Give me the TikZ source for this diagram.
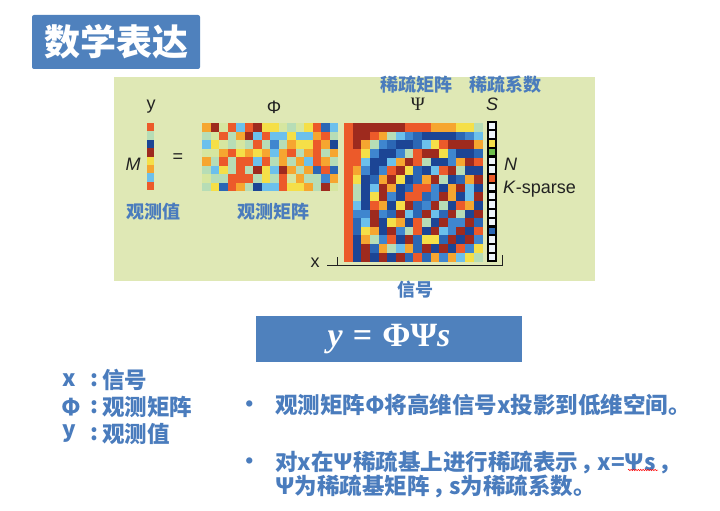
\documentclass[tikz,border=0pt]{standalone}
\usepackage{fontspec}
\setmainfont{Liberation Sans}
\newfontfamily\cjk{Noto Sans CJK SC}
\newfontfamily\serif{Liberation Serif}
\usetikzlibrary{decorations.pathmorphing}
\definecolor{pptblue}{HTML}{4F81BD}
\definecolor{txtblue}{HTML}{4A7CBD}
\definecolor{panel}{HTML}{DFE8B5}
\definecolor{p0}{HTML}{1C4595}
\definecolor{p1}{HTML}{2B67B5}
\definecolor{p2}{HTML}{3F86CF}
\definecolor{p3}{HTML}{6CC0EC}
\definecolor{p4}{HTML}{B7DDB6}
\definecolor{p5}{HTML}{F5DF48}
\definecolor{p6}{HTML}{F6A630}
\definecolor{p7}{HTML}{EC5A2A}
\definecolor{p8}{HTML}{9E2A1E}
\definecolor{p9}{HTML}{D6E6A0}
\definecolor{sw}{HTML}{EEF4FA}
\definecolor{sg}{HTML}{6DBE4B}
\definecolor{ink}{HTML}{222222}
\tikzset{
  cjklabel/.style={font=\cjk\bfseries\fontsize{18}{20}\selectfont, text=txtblue, inner sep=0},
  figlabel/.style={font=\fontsize{18}{20}\selectfont, text=ink, inner sep=0},
  bodytext/.style={font=\cjk\bfseries\fontsize{22.5}{26}\selectfont, text=txtblue, inner sep=0, anchor=west},
}
\begin{document}
\begin{tikzpicture}[x=1pt,y=-1pt]
\useasboundingbox (0,0) rectangle (720,511);
\fill[white] (0,0) rectangle (720,511);

% title
\node[fill=pptblue, rounded corners=2pt, minimum width=168, minimum height=54, inner sep=0,
      text=white, font=\cjk\bfseries\fontsize{36}{40}\selectfont] (title) at (116,42) {数学表达};

% panel
\node[fill=panel, minimum width=481, minimum height=204, inner sep=0] (panel) at (354.5,179) {};

% y vector
\foreach \v [count=\i from 0] in {7,4,0,8,5,6,3,7}
  \fill[p\v] (147,{123+\i*8.4}) rectangle ++(7,8.5);

% Phi matrix
\foreach \rowv [count=\r from 0] in {
 {6,8,9,7,3,7,8,5,5,9,4,9,5,7,1,3},
 {4,9,7,4,6,8,3,7,3,3,5,3,3,6,7,4},
 {3,5,9,4,9,4,7,4,2,4,6,5,5,7,6,0},
 {9,9,6,7,5,6,5,6,3,6,7,4,6,7,4,6},
 {6,4,7,4,7,7,3,7,4,6,4,6,3,7,6,4},
 {4,3,5,4,7,4,8,5,3,8,6,4,6,1,7,1},
 {9,4,4,7,7,7,4,5,4,7,9,6,4,4,2,6},
 {4,5,1,7,6,4,0,3,3,7,5,5,6,4,8,9}}{
  \foreach \v [count=\c from 0] in \rowv {
    \fill[p\v] ({202+\c*8.5},{123+\r*8.5}) rectangle ++(8.6,8.6);
  }
}

% Psi matrix (DCT basis)
\foreach \r in {0,...,15}{
  \foreach \c in {0,...,15}{
    \pgfmathsetmacro\tv{\c==0 ? 0.854 : (cos(5.625*(2*\r+1)*\c)+1)/2}
    \pgfmathtruncatemacro\k{min(8,floor(\tv*9))}
    \fill[p\k] ({344+\c*8.65},{123+\r*8.65}) rectangle ++(8.75,8.75);
  }
}

% s vector
\fill[black] (487,121) rectangle (497,262);
\foreach \cc [count=\i from 0] in {sw,sw,p5,sg,sw,sw,p7,sw,sw,sw,sw,sw,p1,sw,sw,sw}
  \fill[\cc] (489,{122.6+\i*8.75}) rectangle ++(6,6.6);

% bracket
\coordinate (bx0) at (327,265);
\coordinate (bx1) at (502,265);
\coordinate (bt0) at (337,257);
\coordinate (bt1) at (502,255);
\draw[ink, line width=1] (bx0) -- (bx1) -- (bt1);
\draw[ink, line width=1] (bt0) -- (bt0 |- bx0);

% figure labels
\node[figlabel] (ly) at (151,107) {y};
\node[figlabel] (lphi) at (274,107) {Φ};
\node[figlabel, font=\itshape\fontsize{18}{20}\selectfont] (lM) at (133,164) {M};
\node[figlabel] (leq) at (178,158) {=};
\node[figlabel, font=\serif\fontsize{19}{20}\selectfont] (lpsi) at (418,104) {Ψ};
\node[figlabel, font=\itshape\fontsize{18}{20}\selectfont] (lS) at (492,104) {S};
\node[figlabel, font=\itshape\fontsize{18}{20}\selectfont, anchor=west] (lN) at (504,164) {N};
\node[figlabel, anchor=west] (lK) at (503,189) {\textit{K}-sparse};
\node[figlabel] (lx) at (315,263) {x};

\node[cjklabel] (c1) at (416,85) {稀疏矩阵};
\node[cjklabel] (c2) at (505,85) {稀疏系数};
\node[cjklabel] (c3) at (153,212) {观测值};
\node[cjklabel] (c4) at (273,212) {观测矩阵};
\node[cjklabel] (c5) at (415,290) {信号};

% formula box
\node[fill=pptblue, minimum width=266, minimum height=46, inner sep=0, text=white,
      font=\serif\bfseries\fontsize{34}{36}\selectfont] (formula) at (389,339)
      {\itshape y\upshape\hspace{0.3em}=\hspace{0.3em}ΦΨ\itshape s};

% left list
\node[bodytext] (d1) at (62,380) {x};
\node[bodytext] (d2) at (61,407) {Φ};
\node[bodytext] (d3) at (62,434) {y};
\node[bodytext, anchor=center] (k1) at (94,380) {:};
\node[bodytext, anchor=center] (k2) at (94,407) {:};
\node[bodytext, anchor=center] (k3) at (94,434) {:};
\node[bodytext] (e1) at (102,380) {信号};
\node[bodytext] (e2) at (102,407) {观测矩阵};
\node[bodytext] (e3) at (102,434) {观测值};

% bullets
\node[bodytext, anchor=center] (b1) at (250,407) {•};
\node[bodytext, anchor=center] (b2) at (250,464) {•};
\node[bodytext] (t1) at (275,405) {观测矩阵Φ将高维信号x投影到低维空间。};
\node[bodytext] (t2) at (275,462) {对x在Ψ稀疏基上进行稀疏表示\hspace{0.12em}，\hspace{-0.25em}x=Ψs\hspace{0.12em}，};
\node[bodytext] (t3) at (275,486) {Ψ为稀疏基矩阵\hspace{0.12em}，\hspace{-0.25em}s为稀疏系数。};
\draw[red, line width=0.5, decorate, decoration={snake, amplitude=0.7, segment length=2.4}]
  (628,470) -- (658,470);
\end{tikzpicture}
\end{document}
